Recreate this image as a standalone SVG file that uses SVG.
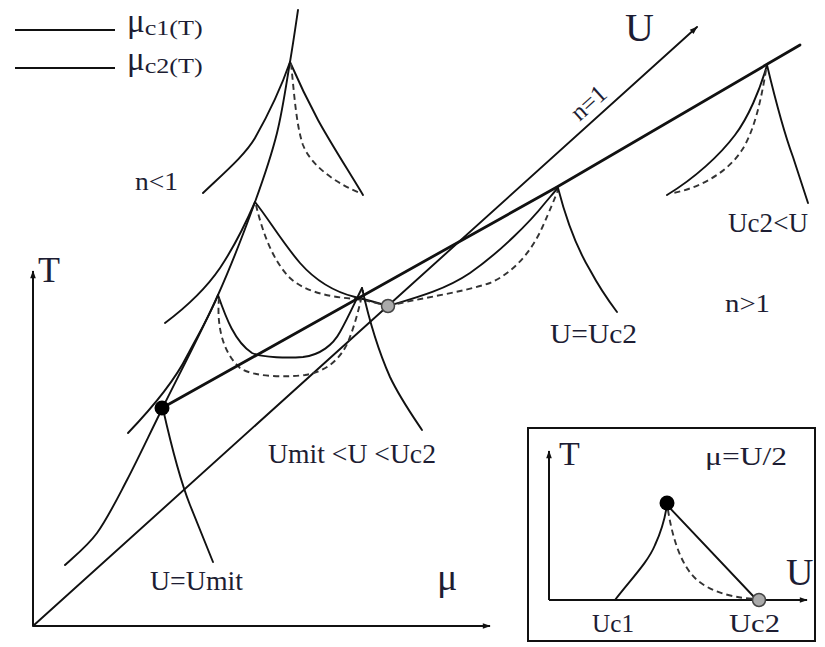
<svg xmlns="http://www.w3.org/2000/svg" width="825" height="647" viewBox="0 0 825 647">
<defs>
<marker id="arr" viewBox="0 0 10 10" refX="9" refY="5" markerWidth="10" markerHeight="8" markerUnits="userSpaceOnUse" orient="auto">
<path d="M0,1.5 L10,5 L0,8.5 Z" fill="#111"/>
</marker>
<style>
.c{fill:none;stroke:#111;stroke-width:1.9;stroke-linecap:round;stroke-linejoin:round}
.d{fill:none;stroke:#333;stroke-width:1.9;stroke-dasharray:6 4}
.ax{fill:none;stroke:#111;stroke-width:2}
.thick{fill:none;stroke:#111;stroke-width:2.8;stroke-linecap:round;stroke-linejoin:round}
text{font-family:"Liberation Serif","Times New Roman",serif;fill:#1d1d33}
</style>
</defs>
<rect width="825" height="647" fill="#fff"/>

<g id="legend">
<line x1="15" y1="30" x2="115" y2="30" class="ax"/>
<text x="127" y="32" font-size="33">μ<tspan font-size="22" dy="3" textLength="58" lengthAdjust="spacingAndGlyphs">c1(T)</tspan></text>
<line x1="15" y1="68" x2="115" y2="68" class="ax"/>
<text x="127" y="70" font-size="33">μ<tspan font-size="22" dy="3" textLength="58" lengthAdjust="spacingAndGlyphs">c2(T)</tspan></text>
</g>

<g id="axes">
<line x1="33" y1="626" x2="33" y2="271" class="ax" marker-end="url(#arr)"/>
<line x1="33" y1="626" x2="490" y2="626" class="ax" marker-end="url(#arr)"/>
<line x1="33" y1="626" x2="697" y2="27" class="c" marker-end="url(#arr)"/>
<text x="38" y="282" font-size="36">T</text>
<text x="437" y="590" font-size="38">μ</text>
<text x="625" y="41" font-size="40">U</text>
<text x="594" y="109" font-size="25" text-anchor="middle" transform="rotate(-42 594 109)">n=1</text>
</g>

<g id="connectors">
<path id="curveA" class="c" d="M65,565 C70.3,559.7 86.7,547.2 97,533 C107.3,518.8 116,501 127,480 C138,459 147.8,437.8 163,407 C178.2,376.2 202.7,329.2 218,295 C233.3,260.8 245.2,229 255,202 C264.8,175 271.2,156.3 277,133 C282.8,109.7 286.5,82.5 290,62 C293.5,41.5 296.7,18.7 298,10"/>
<path class="c" d="M128,433 C150,410 175,380 187,356 C198,335 210,315 218,295"/>
<path class="c" d="M165,323 C185,308 205,290 220,268 C232,250 245,225 255,202"/>
<path class="c" d="M203,193 C225,172 245,155 255,138 C268,115 282,85 290,62"/>
<path class="c" d="M290,62 C300,85 310,105 318,120 C330,142 348,170 363,195"/>
<path class="d" d="M291,64 C294,90 296,125 303,145 C312,168 340,185 360,193"/>
<path class="c" d="M255,202 C268,218 282,242 300,263 C315,280 335,292 355,297 C368,300 378,303 388,306"/>
<path class="d" d="M256,205 C262,230 272,260 290,278 C305,292 330,297 355,299 C370,301 380,304 388,306"/>
<path class="c" d="M218,295 C226,318 235,342 252,353 C262,358 290,358 303,357 C320,355 333,345 340,332 C348,318 356,300 362,288"/>
<path class="d" d="M219,298 C217,320 220,350 240,368 C255,378 290,377 305,375 C325,372 340,360 348,342 C355,325 360,305 363,290"/>
<path class="c" d="M362,288 C368,315 378,350 390,377 C400,398 412,415 422,430"/>
<path class="c" d="M388,306 C415,298 445,290 470,273 C500,252 530,222 545,203 C551,196 555,191 558,188"/>
<path class="d" d="M388,306 C420,298 460,293 490,283 C515,272 532,250 542,228 C550,210 555,198 558,190"/>
<path class="c" d="M558,188 C565,215 575,245 590,270 C598,285 608,300 617,312"/>
<path class="c" d="M767,65 C760,90 748,118 735,135 C720,155 695,178 667,195"/>
<path class="d" d="M766,70 C762,95 755,130 742,150 C728,172 700,188 673,193"/>
<path class="c" d="M767,65 C773,90 783,130 793,157 C798,172 803,188 808,203"/>
<path class="c" d="M163,409 C170,440 180,480 190,505 C198,525 206,545 213,562"/>
<path class="thick" d="M162,408 L557,187 L800,45"/>
</g>

<g id="points">
<circle cx="162" cy="408" r="7.5" fill="#000"/>
<circle cx="388" cy="306" r="6.5" fill="#aaa" stroke="#444" stroke-width="1.5"/>
</g>

<g id="labels">
<text x="135" y="190" font-size="26" textLength="43" lengthAdjust="spacingAndGlyphs">n&lt;1</text>
<text x="725" y="312" font-size="26" textLength="45" lengthAdjust="spacingAndGlyphs">n&gt;1</text>
<text x="728" y="232" font-size="27" textLength="80" lengthAdjust="spacingAndGlyphs">Uc2&lt;U</text>
<text x="550" y="343" font-size="27" textLength="87" lengthAdjust="spacingAndGlyphs">U=Uc2</text>
<text x="268" y="463" font-size="27" textLength="168" lengthAdjust="spacingAndGlyphs">Umit &lt;U &lt;Uc2</text>
<text x="150" y="590" font-size="27" textLength="93" lengthAdjust="spacingAndGlyphs">U=Umit</text>
</g>

<g id="inset">
<rect x="528" y="428" width="287" height="213" fill="none" stroke="#111" stroke-width="2"/>
<line x1="549" y1="600" x2="549" y2="451" class="ax" marker-end="url(#arr)"/>
<line x1="549" y1="600" x2="807" y2="600" class="ax" marker-end="url(#arr)"/>
<path class="c" d="M615,600 C632,578 648,562 655,545 C662,530 665,518 667,505"/>
<path class="c" d="M667,505 L755,598"/>
<path class="d" d="M668,510 C672,535 680,565 697,580 C715,595 740,598 755,599"/>
<circle cx="667" cy="503" r="7.5" fill="#000"/>
<circle cx="759" cy="600" r="6.5" fill="#aaa" stroke="#444" stroke-width="1.5"/>
<text x="559" y="465" font-size="34">T</text>
<text x="705" y="465" font-size="26" textLength="82" lengthAdjust="spacingAndGlyphs">μ=U/2</text>
<text x="786" y="585" font-size="38">U</text>
<text x="592" y="632" font-size="26" textLength="42" lengthAdjust="spacingAndGlyphs">Uc1</text>
<text x="729" y="632" font-size="26" textLength="51" lengthAdjust="spacingAndGlyphs">Uc2</text>
</g>
</svg>
